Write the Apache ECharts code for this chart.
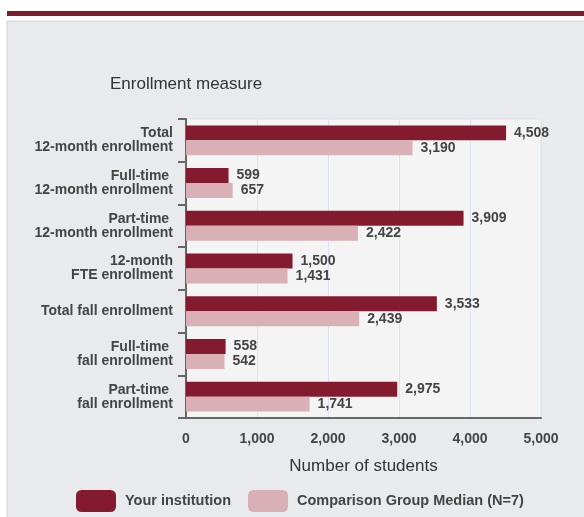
<!DOCTYPE html>
<html>
<head>
<meta charset="utf-8">
<script src="https://cdn.jsdelivr.net/npm/echarts@6/dist/echarts.min.js"></script>
<style>
  html, body { margin: 0; padding: 0; background: #fff; }
  #chart { width: 584px; height: 517px; }
</style>
</head>
<body>
<div id="chart"></div>
<script>
const categories = [
  'Total\n12-month enrollment',
  'Full-time \n12-month enrollment',
  'Part-time \n12-month enrollment',
  '12-month\nFTE enrollment',
  'Total fall enrollment',
  'Full-time \nfall enrollment',
  'Part-time \nfall enrollment',
];
const yourInstitution = [4508, 599, 3909, 1500, 3533, 558, 2975];
const comparisonMedian = [3190, 657, 2422, 1431, 2439, 542, 1741];
const xTicks = { min: 0, max: 5000, interval: 1000 };

const DARK = '#841a2d';
const LIGHT = '#d8b0b6';
const FONT = '"Liberation Sans", Arial, sans-serif';

const chart = echarts.init(document.getElementById('chart'));

const valueLabel = {
  show: true,
  position: 'right',
  distance: 8,
  color: '#444',
  fontFamily: FONT,
  fontSize: 14,
  fontWeight: 'bold',
  formatter: (p) => p.value.toLocaleString('en-US'),
};

chart.setOption({
  animation: false,
  textStyle: { fontFamily: FONT },
  graphic: [
    { type: 'rect', z: -10, shape: { x: 7, y: 21, width: 600, height: 510 },
      style: { fill: '#e8eaed', stroke: '#d3d3d3', lineWidth: 1 } },
    { type: 'rect', z: -10, shape: { x: 7, y: 11, width: 580, height: 5 },
      style: { fill: '#7d1a2b' } },
    { type: 'text', left: 110, top: 76,
      style: { text: 'Enrollment measure', fill: '#333', font: '17px ' + FONT } },
  ],
  legend: {
    left: 76,
    top: 490,
    padding: 0,
    itemWidth: 40,
    itemHeight: 22,
    itemGap: 17,
    icon: 'roundRect',
    textStyle: { color: '#444', fontSize: 14.5, fontWeight: 'bold', padding: [0, 0, 0, 4] },
    data: ['Your institution', 'Comparison Group Median (N=7)'],
  },
  grid: {
    left: 186, right: 43, top: 119, bottom: 99,
    show: true,
    backgroundColor: '#f4f4f4',
    borderColor: '#dde2ea',
    borderWidth: 1,
    outerBoundsMode: 'none',
  },
  xAxis: {
    type: 'value',
    min: xTicks.min,
    max: xTicks.max,
    interval: xTicks.interval,
    name: 'Number of students',
    nameLocation: 'middle',
    nameGap: 40,
    nameTextStyle: { color: '#333', fontSize: 17 },
    axisLine: { show: true, lineStyle: { color: '#666', width: 2 } },
    axisTick: { show: false },
    axisLabel: {
      color: '#444', fontSize: 14, fontWeight: 'bold', margin: 14,
      formatter: (v) => v.toLocaleString('en-US'),
    },
    splitLine: { show: true, lineStyle: { color: '#dbe3ee', width: 1 } },
  },
  yAxis: {
    type: 'category',
    inverse: true,
    data: categories,
    axisLine: { show: true, lineStyle: { color: '#666', width: 2 } },
    axisTick: { show: true, length: 8, lineStyle: { color: '#666', width: 2 } },
    axisLabel: {
      color: '#444', fontSize: 14, fontWeight: 'bold', margin: 13,
      lineHeight: 14, align: 'right',
    },
    splitLine: { show: false },
  },
  series: [
    {
      name: 'Your institution',
      type: 'bar',
      data: yourInstitution,
      barGap: '0%',
      barCategoryGap: '30%',
      itemStyle: { color: DARK },
      label: valueLabel,
    },
    {
      name: 'Comparison Group Median (N=7)',
      type: 'bar',
      data: comparisonMedian,
      itemStyle: { color: LIGHT },
      label: valueLabel,
    },
  ],
});
</script>
</body>
</html>
